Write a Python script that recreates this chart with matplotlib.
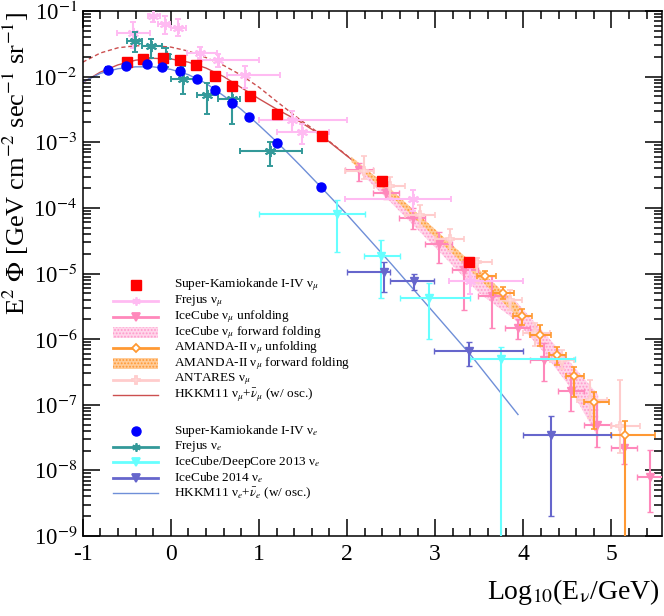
import numpy as np
import matplotlib
matplotlib.use('Agg')
import matplotlib.pyplot as plt
from matplotlib.patches import Rectangle
from matplotlib.ticker import FixedLocator, MultipleLocator, FuncFormatter, NullFormatter

plt.rcParams['font.family'] = ['Liberation Serif', 'DejaVu Serif']
plt.rcParams['mathtext.fontset'] = 'stix'
plt.rcParams['hatch.linewidth'] = 0.9

# ---------------- data (x = log10(E/GeV), y = E^2 Phi) ----------------
# Super-Kamiokande I-IV numu / nue
sk_mu_x = [-0.5, -0.32, -0.09, 0.1, 0.29, 0.5, 0.7, 0.9, 1.2, 1.72, 2.4, 3.38]
sk_mu_y = [1.65e-2, 1.85e-2, 1.91e-2, 1.79e-2, 1.50e-2, 1.02e-2, 7.1e-3, 5.0e-3, 2.74e-3, 1.25e-3, 2.57e-4, 1.49e-5]
sk_mu_err = [1.7e-3, 1.9e-3, 1.9e-3, 1.8e-3, 1.5e-3, 1.1e-3, 7e-4, 5e-4, 2.7e-4, 1.3e-4, 3e-5, 2e-6]

sk_e_x = [-0.71, -0.51, -0.27, -0.1, 0.1, 0.3, 0.5, 0.7, 0.89, 1.21, 1.71]
sk_e_y = [1.27e-2, 1.46e-2, 1.55e-2, 1.38e-2, 1.23e-2, 9.1e-3, 6.3e-3, 4.0e-3, 2.43e-3, 9.9e-4, 2.1e-4]
sk_e_err = [1.3e-3, 1.5e-3, 1.6e-3, 1.4e-3, 1.2e-3, 9e-4, 6e-4, 4e-4, 2.5e-4, 1e-4, 2.2e-5]

# Frejus numu
fr_mu_x = [-0.43, -0.2, -0.07, 0.08, 0.33, 0.54, 0.84, 1.38, 1.49, 2.75, 3.40]
fr_mu_xlo = [-0.61, -0.26, -0.14, 0.0, 0.18, 0.31, 0.64, 1.0, 1.2, 1.98, 3.16]
fr_mu_xhi = [-0.24, -0.12, -0.01, 0.17, 0.52, 1.0, 1.24, 2.0, 1.79, 3.18, 4.0]
fr_mu_y = [4.7e-2, 8.5e-2, 6.3e-2, 5.6e-2, 2.3e-2, 1.78e-2, 1.05e-2, 2.2e-3, 1.45e-3, 1.35e-4, 7.6e-6]
fr_mu_ylo = [2.7e-2, 6.8e-2, 4.4e-2, 4.1e-2, 1.74e-2, 1.38e-2, 6.8e-3, 1.41e-3, 9.3e-4, 8.9e-5, 4.8e-6]
fr_mu_yhi = [6.8e-2, 0.13, 8.4e-2, 7.6e-2, 2.8e-2, 2.2e-2, 1.46e-2, 3.0e-3, 1.88e-3, 1.87e-4, 1.22e-5]

# Frejus nue
fr_e_x = [-0.41, -0.22, -0.05, 0.14, 0.41, 0.69, 1.13]
fr_e_xlo = [-0.5, -0.33, -0.1, 0.0, 0.3, 0.54, 0.78]
fr_e_xhi = [-0.33, -0.1, -0.01, 0.28, 0.54, 0.78, 1.49]
fr_e_y = [3.47e-2, 2.88e-2, 2.04e-2, 9.1e-3, 5.2e-3, 4.5e-3, 7.4e-4]
fr_e_ylo = [2.37e-2, 1.95e-2, 1.41e-2, 5.4e-3, 2.7e-3, 1.88e-3, 4.4e-4]
fr_e_yhi = [4.8e-2, 3.7e-2, 2.72e-2, 1.46e-2, 8.1e-3, 6.5e-3, 1.01e-3]

# IceCube/DeepCore 2013 nue
dc_x = [1.89, 2.38, 2.93, 3.75]
dc_xlo = [1.0, 2.19, 2.6, 3.39]
dc_xhi = [2.2, 2.6, 3.39, 4.59]
dc_y = [8.0e-5, 1.84e-5, 4.3e-6, 5.0e-7]
dc_ylo = [2.1e-5, 4.3e-6, 1.0e-6, 1e-10]
dc_yhi = [1.32e-4, 3.2e-5, 7.2e-6, 7.6e-7]

# IceCube 2014 nue
ic14_x = [2.42, 2.76, 3.38, 4.31]
ic14_xlo = [2.0, 2.49, 2.99, 4.0]
ic14_xhi = [2.49, 2.99, 4.0, 4.99]
ic14_y = [1.05e-5, 7.8e-6, 6.5e-7, 3.5e-8]
ic14_ylo = [5.2e-6, 5.7e-6, 3.9e-7, 2.0e-9]
ic14_yhi = [1.48e-5, 9.7e-6, 9.1e-7, 6.8e-8]

# IceCube numu unfolding
icu_x = [2.14, 2.44, 2.75, 3.04, 3.33, 3.64, 3.94, 4.23, 4.54, 4.84, 5.14, 5.44]
icu_xlo = [1.98, 2.29, 2.59, 2.89, 3.19, 3.49, 3.79, 4.08, 4.39, 4.69, 4.99, 5.29]
icu_xhi = [2.29, 2.59, 2.89, 3.19, 3.49, 3.79, 4.08, 4.39, 4.69, 4.99, 5.29, 5.6]
icu_y = [3.8e-4, 1.7e-4, 7.1e-5, 2.84e-5, 1.12e-5, 4.5e-6, 1.48e-6, 4.86e-7, 1.6e-7, 4.95e-8, 2.19e-8, 8.05e-9]
icu_ylo = [2.57e-4, 1.35e-4, 4.7e-5, 1.45e-5, 2.8e-6, 1.48e-6, 1.0e-6, 2.3e-7, 7.9e-8, 2.24e-8, 1.26e-8, 2.3e-9]
icu_yhi = [4.9e-4, 2.1e-4, 9.8e-5, 4.3e-5, 1.55e-5, 9.1e-6, 2.0e-6, 8.7e-7, 3.1e-7, 1.12e-7, 3.5e-8, 2.04e-8]

# AMANDA-II numu unfolding
am_x = [3.57, 3.77, 3.98, 4.19, 4.38, 4.58, 4.80, 5.15]
am_xlo = [3.48, 3.66, 3.88, 4.08, 4.29, 4.48, 4.69, 4.99]
am_xhi = [3.69, 3.89, 4.1, 4.32, 4.49, 4.69, 4.97, 5.49]
am_y = [9.1e-6, 5.1e-6, 2.23e-6, 1.17e-6, 5.7e-7, 2.77e-7, 1.12e-7, 3.5e-8]
am_ylo = [7.6e-6, 4.1e-6, 1.66e-6, 7.9e-7, 4.1e-7, 1.32e-7, 4.2e-8, 1e-10]
am_yhi = [1.08e-5, 6.3e-6, 2.92e-6, 1.66e-6, 7.6e-7, 3.8e-7, 1.58e-7, 5.6e-8]

# ANTARES numu
an_x = [2.19, 2.49, 2.83, 3.17, 3.48, 3.85, 4.13, 4.44, 4.76, 5.10]
an_xlo = [1.98, 2.31, 2.66, 3.0, 3.36, 3.72, 4.0, 4.3, 4.61, 4.99]
an_xhi = [2.31, 2.66, 3.0, 3.33, 3.65, 3.99, 4.3, 4.57, 4.95, 5.32]
an_y = [3.6e-4, 2.14e-4, 7.9e-5, 3.3e-5, 1.51e-5, 4.0e-6, 1.26e-6, 4.86e-7, 1.2e-7, 4.7e-8]
an_ylo = [2.75e-4, 1.35e-4, 5.2e-5, 2.2e-5, 7.2e-6, 2.8e-6, 7.9e-7, 3.5e-7, 6.3e-8, 1.86e-8]
an_yhi = [6.2e-4, 3.0e-4, 1.12e-4, 4.7e-5, 1.74e-5, 5.6e-6, 1.78e-6, 6.9e-7, 2.4e-7, 2.4e-7]

# forward folding bands
icff_x = [2.1, 2.5, 3.0, 3.5, 3.9, 4.2, 4.5, 4.85]
icff_lo = [3.98e-4, 1.2e-4, 2.5e-5, 5.0e-6, 2.0e-6, 7.1e-7, 2.1e-7, 3.16e-8]
icff_hi = [5.25e-4, 1.74e-4, 3.98e-5, 9.5e-6, 4.0e-6, 1.41e-6, 5.0e-7, 1.41e-7]

amff_x = [2.05, 2.5, 3.0, 3.5, 3.95]
amff_lo = [5.0e-4, 1.51e-4, 3.55e-5, 8.3e-6, 2.09e-6]
amff_hi = [6.0e-4, 1.9e-4, 4.7e-5, 1.15e-5, 3.16e-6]

# HKKM11 predictions
hk_mu_x = [-1.0, -0.8, -0.6, -0.4, -0.2, 0.0, 0.2, 0.4, 0.6, 0.8, 1.0, 1.2, 1.47, 1.7, 2.07, 2.4, 3.0, 3.4, 4.0]
hk_mu_y = [8.1e-3, 1.17e-2, 1.51e-2, 1.78e-2, 1.9e-2, 1.86e-2, 1.66e-2, 1.35e-2, 1.0e-2, 6.8e-3,
           4.6e-3, 3.2e-3, 2.04e-3, 1.29e-3, 5.2e-4, 2.4e-4, 4.4e-5, 1.35e-5, 1.9e-6]
hk_mu_nosc_x = [-1.0, -0.8, -0.6, -0.4, -0.2, 0.0, 0.2, 0.4, 0.6, 0.8, 1.0, 1.2, 1.47, 1.7, 2.07]
hk_mu_nosc_y = [1.66e-2, 2.29e-2, 2.75e-2, 2.95e-2, 2.95e-2, 2.82e-2, 2.45e-2, 1.95e-2, 1.48e-2, 1.05e-2,
                6.9e-3, 4.2e-3, 2.19e-3, 1.32e-3, 5.25e-4]
hk_e_x = [-1.0, -0.8, -0.6, -0.4, -0.2, 0.0, 0.2, 0.4, 0.6, 0.8, 1.0, 1.2, 1.47, 1.7, 2.0, 2.5, 3.0, 3.4, 3.94]
hk_e_y = [8.3e-3, 1.12e-2, 1.32e-2, 1.41e-2, 1.41e-2, 1.29e-2, 1.07e-2, 7.9e-3, 5.1e-3, 3.16e-3,
          1.82e-3, 1.02e-3, 4.4e-4, 2.1e-4, 7.9e-5, 1.41e-5, 2.4e-6, 5.8e-7, 7.1e-8]

# colours
c_sk_mu, c_sk_e = '#ff0000', '#0000ff'
c_fr_mu, c_fr_e = '#ffbbf2', '#339999'
c_icu, c_icff = '#ff88bb', '#ff99cc'
c_am, c_an = '#ff9933', '#ffcccc'
c_dc, c_ic14 = '#66ffff', '#6666cc'
c_hk_mu, c_hk_e = '#cc4f4f', '#6f8fd8'

# ---------------- figure ----------------
fig = plt.figure(figsize=(6.64, 6.16), dpi=100)
ax = fig.add_axes([82.7 / 664, 80 / 616, 579.8 / 664, 525 / 616])
ax.set_yscale('log')
ax.set_xlim(-1, 5.58)
ax.set_ylim(1e-9, 1e-1)

ax.fill_between(icff_x, icff_lo, icff_hi, facecolor='#ffd6ea', edgecolor=c_icff, hatch='.....', lw=0, zorder=1)
ax.fill_between(amff_x, amff_lo, amff_hi, facecolor='#ffcc99', edgecolor=c_am, hatch='.....', lw=0, zorder=1.5)

ax.plot(hk_mu_x, hk_mu_y, color=c_hk_mu, lw=1.0, zorder=0.8)
ax.plot(hk_mu_nosc_x, hk_mu_nosc_y, color=c_hk_mu, lw=1.0, ls=(0, (3, 2)), zorder=0.8)
ax.plot(hk_e_x, hk_e_y, color=c_hk_e, lw=1.0, zorder=0.8)


def draw_points(x, xlo, xhi, y, ylo, yhi, color, marker, ms, mfc=None, mew=1.0, z=3):
    x, y = np.array(x), np.array(y)
    xerr = [x - np.array(xlo), np.array(xhi) - x]
    yerr = [y - np.array(ylo), np.array(yhi) - y]
    ax.errorbar(x, y, xerr=xerr, yerr=yerr, fmt='', ls='none', marker=marker, color=color, ms=ms,
                mfc=mfc if mfc else color, mec=color, mew=mew,
                elinewidth=1.5, capsize=2.5, capthick=1.5, zorder=z)


draw_points(icu_x, icu_xlo, icu_xhi, icu_y, icu_ylo, icu_yhi, c_icu, 'v', 5.5, z=3)
draw_points(an_x, an_xlo, an_xhi, an_y, an_ylo, an_yhi, c_an, 'P', 6, mfc='white', mew=1.2, z=3.1)
draw_points(am_x, am_xlo, am_xhi, am_y, am_ylo, am_yhi, c_am, 'D', 4.5, mfc='white', mew=1.2, z=3.2)
draw_points(fr_mu_x, fr_mu_xlo, fr_mu_xhi, fr_mu_y, fr_mu_ylo, fr_mu_yhi, c_fr_mu, (6, 2, 0), 8, mew=1.4, z=3.3)
draw_points(fr_e_x, fr_e_xlo, fr_e_xhi, fr_e_y, fr_e_ylo, fr_e_yhi, c_fr_e, (6, 2, 0), 8, mew=1.4, z=3.4)
draw_points(dc_x, dc_xlo, dc_xhi, dc_y, dc_ylo, dc_yhi, c_dc, 'v', 6, z=3.5)
draw_points(ic14_x, ic14_xlo, ic14_xhi, ic14_y, ic14_ylo, ic14_yhi, c_ic14, 'v', 6, z=3.6)

ax.errorbar(sk_mu_x, sk_mu_y, yerr=sk_mu_err, fmt='s', color=c_sk_mu, ms=6.5, elinewidth=1.5,
            capsize=2, capthick=1.5, zorder=4)
ax.errorbar(sk_e_x, sk_e_y, yerr=sk_e_err, fmt='o', color=c_sk_e, ms=6.5, elinewidth=1.5,
            capsize=2, capthick=1.5, zorder=4)

# axes styling (ROOT-like)
ax.xaxis.set_major_locator(MultipleLocator(1))
ax.xaxis.set_minor_locator(MultipleLocator(0.2))
ax.xaxis.set_major_formatter(FuncFormatter(lambda v, p: '%d' % round(v)))
ax.yaxis.set_major_locator(FixedLocator([10.0 ** k for k in range(-9, 0)]))
ax.yaxis.set_minor_locator(FixedLocator([m * 10.0 ** k for k in range(-9, -1) for m in range(2, 10)]))
ax.yaxis.set_major_formatter(FuncFormatter(lambda v, p: '10$^{%d}$' % round(np.log10(v))))
ax.yaxis.set_minor_formatter(NullFormatter())
ax.tick_params(which='both', direction='in', top=True, right=True, width=1.1)
ax.tick_params(which='major', length=12)
ax.tick_params(which='minor', length=6)
ax.tick_params(axis='x', pad=6, labelsize=17)
ax.tick_params(axis='y', pad=4, labelsize=16.5)
for s in ax.spines.values():
    s.set_linewidth(1.1)

fig.text(16 / 664, 1 - 12 / 616, r'E$^{2}$ $\Phi$ [GeV cm$^{-2}$ sec$^{-1}$ sr$^{-1}$]',
         rotation=90, ha='center', va='top', fontsize=19)
fig.text(660 / 664, 1 - 599 / 616, r'Log$_{10}$(E$_{\mathrm{ν}}$/GeV)', ha='right', va='baseline', fontsize=20)

# ---------------- legend (drawn in pixel coordinates) ----------------
lax = fig.add_axes([0, 0, 1, 1], zorder=5)
lax.set_xlim(0, 664)
lax.set_ylim(616, 0)
lax.axis('off')

entries = [
    ('marker', c_sk_mu, 's', r'Super-Kamiokande I-IV ν$_{\mu}$'),
    ('line', c_fr_mu, (6, 2, 0), r'Frejus ν$_{\mu}$'),
    ('line', c_icu, 'v', r'IceCube ν$_{\mu}$ unfolding'),
    ('box', c_icff, '#ffd6ea', r'IceCube ν$_{\mu}$ forward folding'),
    ('line', c_am, 'D', r'AMANDA-II ν$_{\mu}$ unfolding'),
    ('box', c_am, '#ffcc99', r'AMANDA-II ν$_{\mu}$ forward folding'),
    ('line', c_an, 'P', r'ANTARES ν$_{\mu}$'),
    ('thin', c_hk_mu, None, r'HKKM11 ν$_{\mu}$+$\bar{\nu}_{\mu}$ (w/ osc.)'),
    ('marker', c_sk_e, 'o', r'Super-Kamiokande I-IV ν$_{e}$'),
    ('line', c_fr_e, (6, 2, 0), r'Frejus ν$_{e}$'),
    ('line', c_dc, 'v', r'IceCube/DeepCore 2013 ν$_{e}$'),
    ('line', c_ic14, 'v', r'IceCube 2014 ν$_{e}$'),
    ('thin', c_hk_e, None, r'HKKM11 ν$_{e}$+$\bar{\nu}_{e}$ (w/ osc.)'),
]
rows = list(285 + 15.75 * np.arange(8)) + list(431 + 15.6 * np.arange(5))
for (kind, col, extra, label), yy in zip(entries, rows):
    if kind == 'marker':
        lax.plot([136], [yy], marker=extra, color=col, ms=6.5, ls='none')
    elif kind == 'line':
        open_mk = extra in ('D', 'P')
        lax.plot([113, 158], [yy, yy], color=col, lw=2)
        lax.plot([136], [yy], marker=extra, color=col, ms=6 if extra != 'D' else 4.5,
                 mfc='white' if open_mk else col, mec=col, mew=1.3, ls='none')
    elif kind == 'box':
        lax.add_patch(Rectangle((113, yy - 5.5), 45, 11, facecolor=extra, edgecolor=col,
                                hatch='.....', lw=0))
    else:
        lax.plot([113, 158], [yy, yy], color=col, lw=1.0)
    lax.text(174, yy, label, va='center', ha='left', fontsize=9.5)

fig.savefig('out.png', dpi=100)
